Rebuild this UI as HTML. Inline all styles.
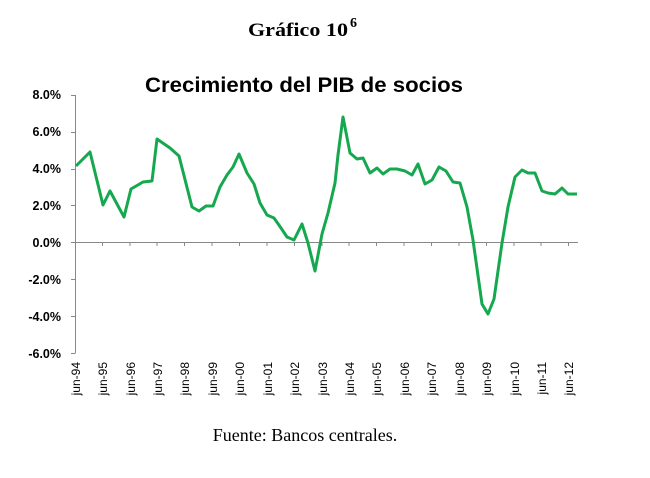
<!DOCTYPE html>
<html><head><meta charset="utf-8"><style>body{margin:0;background:#fff}</style></head>
<body>
<svg width="650" height="473" xmlns="http://www.w3.org/2000/svg">
<text x="248" y="36" font-family="Liberation Serif" font-weight="bold" font-size="19" textLength="100" lengthAdjust="spacingAndGlyphs">Gráfico 10</text>
<text x="350" y="27" font-family="Liberation Serif" font-weight="bold" font-size="14">6</text>
<text x="145" y="92" font-family="Liberation Sans" font-weight="bold" font-size="21" textLength="318" lengthAdjust="spacingAndGlyphs">Crecimiento del PIB de socios</text>
<g font-family="Liberation Sans" font-weight="bold" font-size="12.5" text-anchor="end">
<text x="61" y="99">8.0%</text><text x="61" y="136">6.0%</text><text x="61" y="173">4.0%</text><text x="61" y="210">2.0%</text><text x="61" y="247">0.0%</text><text x="61" y="284">-2.0%</text><text x="61" y="321">-4.0%</text><text x="61" y="358">-6.0%</text>
</g>
<g stroke="#888" stroke-width="1" fill="none">
<path d="M75.5 95V353"/>
<path d="M71 95.5h4.5M71 132.5h4.5M71 169.5h4.5M71 205.5h4.5M71 242.5h4.5M71 279.5h4.5M71 316.5h4.5M71 353.5h4.5"/>
<path d="M75 242.5H578"/>
<path d="M102.5 242v4M130 242v4M157 242v4M184.5 242v4M212 242v4M239.5 242v4M267 242v4M294.5 242v4M322 242v4M349 242v4M376.5 242v4M404 242v4M431.5 242v4M459 242v4M486.5 242v4M514 242v4M541 242v4M568.5 242v4"/>
</g>
<polyline fill="none" stroke="#16a84e" stroke-width="3" stroke-linejoin="round" points="76,166 90,152 103,205 110,191 124,217 131,189 143,182 152,181 157,139 170,148 179,156 192,207 199,211 206,206 213,206 220,187 227,175 233,167 239,154 247,173 254,184 260,203 267,215 274,218 281,228 287,237 294,240 302,224 308,243 315,271 322,234 328,213 335,183 338,155 343,117 350,153 357,159 363,158 370,173 377,168 383,174 390,169 397,169 405,171 412,175 418,164 425,184 432,180 439,167 446,171 453,182 460,183 467,207 473,240 482,304 488,314 494,299 502,243 508,207 515,177 522,170 528,173 535,173 542,191 548,193 555,194 562,188 568,194 577,194"/>
<g font-family="Liberation Sans" font-size="12" text-anchor="end">
<text transform="translate(80,362) rotate(-90)">jun-94</text>
<text transform="translate(107,362) rotate(-90)">jun-95</text>
<text transform="translate(135,362) rotate(-90)">jun-96</text>
<text transform="translate(162,362) rotate(-90)">jun-97</text>
<text transform="translate(189,362) rotate(-90)">jun-98</text>
<text transform="translate(217,362) rotate(-90)">jun-99</text>
<text transform="translate(244,362) rotate(-90)">jun-00</text>
<text transform="translate(272,362) rotate(-90)">jun-01</text>
<text transform="translate(299,362) rotate(-90)">jun-02</text>
<text transform="translate(327,362) rotate(-90)">jun-03</text>
<text transform="translate(354,362) rotate(-90)">jun-04</text>
<text transform="translate(381,362) rotate(-90)">jun-05</text>
<text transform="translate(409,362) rotate(-90)">jun-06</text>
<text transform="translate(436,362) rotate(-90)">jun-07</text>
<text transform="translate(464,362) rotate(-90)">jun-08</text>
<text transform="translate(491,362) rotate(-90)">jun-09</text>
<text transform="translate(519,362) rotate(-90)">jun-10</text>
<text transform="translate(546,362) rotate(-90)">jun-11</text>
<text transform="translate(573,362) rotate(-90)">jun-12</text>
</g>
<text x="305" y="441" text-anchor="middle" font-family="Liberation Serif" font-size="18">Fuente: Bancos centrales.</text>
</svg>
</body></html>
